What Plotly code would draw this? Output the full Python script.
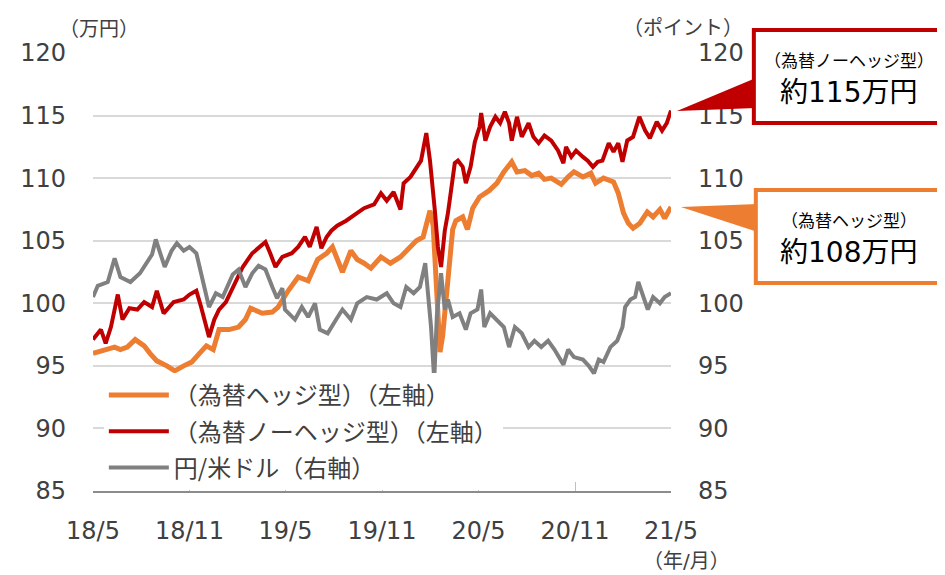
import plotly.graph_objects as go

# (為替ヘッジ型) 左軸
hedge_dates = ["2018-05-31", "2018-06-22", "2018-07-11", "2018-07-22", "2018-08-04", "2018-08-19",
               "2018-09-05", "2018-09-16", "2018-09-29", "2018-10-18", "2018-11-02", "2018-11-19",
               "2018-12-04", "2018-12-19", "2019-01-01", "2019-01-14", "2019-01-25", "2019-02-13",
               "2019-03-03", "2019-03-16", "2019-03-26", "2019-04-17", "2019-05-06", "2019-05-17",
               "2019-06-05", "2019-06-24", "2019-07-13", "2019-07-31", "2019-08-17", "2019-08-28",
               "2019-09-06", "2019-09-16", "2019-10-02", "2019-10-14", "2019-10-27", "2019-11-09",
               "2019-11-28", "2019-12-16", "2020-01-04", "2020-01-23", "2020-02-03", "2020-02-16",
               "2020-02-29", "2020-03-06", "2020-03-11", "2020-03-17", "2020-03-19", "2020-03-24",
               "2020-03-30", "2020-04-07", "2020-04-12", "2020-04-18", "2020-05-01", "2020-05-10",
               "2020-05-20", "2020-06-02", "2020-06-20", "2020-07-05", "2020-07-18", "2020-08-02",
               "2020-08-12", "2020-08-27", "2020-09-09", "2020-09-22", "2020-10-03", "2020-10-16",
               "2020-11-04", "2020-11-17", "2020-11-28", "2020-12-15", "2020-12-30", "2021-01-08",
               "2021-01-23", "2021-02-11", "2021-02-20", "2021-03-02", "2021-03-11", "2021-03-20",
               "2021-04-02", "2021-04-16", "2021-04-27", "2021-05-10", "2021-05-19", "2021-05-31"]
hedge = [96.0, 96.3, 96.5, 96.3, 96.5, 97.1,
         96.6, 96.0, 95.4, 95.0, 94.6, 95.0,
         95.3, 96.0, 96.6, 96.3, 97.9, 97.9,
         98.1, 98.7, 99.6, 99.2, 99.3, 99.7,
         101.0, 102.1, 101.8, 103.5, 104.0, 104.5,
         103.5, 102.5, 104.2, 103.5, 103.2, 102.8,
         103.7, 103.2, 103.7, 104.5, 105.0, 105.3,
         107.4, 106.2, 102.0, 97.2, 96.1, 97.4,
         100.0, 104.3, 105.9, 106.6, 106.9, 105.9,
         107.6, 108.5, 109.0, 109.6, 110.5, 111.3,
         110.5, 110.6, 110.2, 110.4, 109.9, 110.0,
         109.5, 110.1, 110.5, 110.1, 110.4, 109.6,
         110.0, 109.7, 108.8, 107.2, 106.4, 106.0,
         106.4, 107.3, 106.9, 107.5, 106.8, 107.7]

# (為替ノーヘッジ型) 左軸
nohedge_dates = ["2018-05-31", "2018-06-15", "2018-06-24", "2018-07-04", "2018-07-17", "2018-07-26",
                 "2018-08-08", "2018-08-23", "2018-09-05", "2018-09-20", "2018-09-29", "2018-10-12",
                 "2018-10-31", "2018-11-19", "2018-11-30", "2018-12-13", "2018-12-22", "2019-01-01",
                 "2019-01-06", "2019-01-16", "2019-01-25", "2019-02-07", "2019-02-20", "2019-03-11",
                 "2019-03-29", "2019-04-10", "2019-04-23", "2019-05-02", "2019-05-12", "2019-05-25",
                 "2019-06-12", "2019-06-24", "2019-07-07", "2019-07-16", "2019-07-29", "2019-08-07",
                 "2019-08-17", "2019-08-26", "2019-09-06", "2019-09-23", "2019-10-08", "2019-10-27",
                 "2019-11-15", "2019-11-28", "2019-12-09", "2019-12-22", "2020-01-04", "2020-01-10",
                 "2020-01-23", "2020-02-03", "2020-02-12", "2020-02-22", "2020-02-29", "2020-03-09",
                 "2020-03-15", "2020-03-21", "2020-03-28", "2020-04-03", "2020-04-09", "2020-04-16",
                 "2020-04-22", "2020-05-01", "2020-05-07", "2020-05-16", "2020-05-24", "2020-06-02",
                 "2020-06-05", "2020-06-13", "2020-06-22", "2020-07-02", "2020-07-11", "2020-07-20",
                 "2020-07-28", "2020-08-02", "2020-08-12", "2020-08-21", "2020-09-03", "2020-09-12",
                 "2020-09-22", "2020-10-03", "2020-10-16", "2020-10-29", "2020-11-08", "2020-11-13",
                 "2020-11-23", "2020-12-02", "2020-12-15", "2020-12-24", "2021-01-03", "2021-01-12",
                 "2021-01-21", "2021-02-02", "2021-02-11", "2021-02-20", "2021-02-28", "2021-03-09",
                 "2021-03-20", "2021-04-01", "2021-04-12", "2021-04-21", "2021-05-04", "2021-05-14",
                 "2021-05-23", "2021-05-31"]
nohedge = [97.1, 97.9, 96.8, 98.1, 100.7, 98.7,
           99.6, 99.5, 100.1, 99.7, 101.0, 99.2,
           100.1, 100.3, 100.7, 101.0, 99.7, 97.9,
           97.3, 98.7, 99.5, 100.1, 101.3, 102.9,
           104.0, 104.4, 104.9, 104.0, 102.9, 103.7,
           104.0, 104.5, 105.3, 104.5, 106.1, 104.4,
           105.3, 105.8, 106.2, 106.6, 107.0, 107.6,
           107.9, 108.8, 108.2, 108.9, 107.5, 109.6,
           110.1, 110.9, 111.4, 113.6, 111.4, 107.5,
           104.5, 102.9, 105.8, 107.2, 109.3, 111.2,
           111.4, 110.9, 109.6, 110.9, 112.9, 114.1,
           115.2, 113.0, 114.1, 114.9, 114.4, 115.3,
           114.4, 113.0, 114.9, 113.3, 114.4, 113.3,
           112.8, 113.4, 113.0, 112.2, 111.2, 112.5,
           111.7, 112.2, 111.7, 111.4, 110.9, 111.3,
           111.4, 112.8, 112.1, 112.8, 111.3, 113.0,
           113.3, 114.9, 113.8, 113.2, 114.5, 113.8,
           114.4, 115.4]

# 円/米ドル 右軸
usdjpy_dates = ["2018-05-31", "2018-06-09", "2018-06-28", "2018-07-11", "2018-07-22", "2018-08-10",
                "2018-08-28", "2018-09-10", "2018-09-20", "2018-09-27", "2018-10-09", "2018-10-14",
                "2018-10-27", "2018-11-06", "2018-11-19", "2018-11-30", "2018-12-13", "2018-12-22",
                "2018-12-28", "2019-01-06", "2019-01-19", "2019-02-01", "2019-02-20", "2019-03-03",
                "2019-03-16", "2019-03-29", "2019-04-10", "2019-04-23", "2019-05-06", "2019-05-15",
                "2019-05-25", "2019-05-30", "2019-06-18", "2019-07-01", "2019-07-13", "2019-07-26",
                "2019-08-04", "2019-08-19", "2019-09-04", "2019-09-16", "2019-10-02", "2019-10-14",
                "2019-11-01", "2019-11-20", "2019-12-09", "2019-12-22", "2020-01-04", "2020-01-15",
                "2020-01-29", "2020-02-10", "2020-02-20", "2020-02-25", "2020-03-02", "2020-03-08",
                "2020-03-13", "2020-03-21", "2020-03-28", "2020-04-03", "2020-04-12", "2020-04-25",
                "2020-05-07", "2020-05-16", "2020-05-29", "2020-06-05", "2020-06-11", "2020-06-22",
                "2020-07-05", "2020-07-18", "2020-07-28", "2020-08-08", "2020-08-21", "2020-09-03",
                "2020-09-14", "2020-09-27", "2020-10-10", "2020-10-22", "2020-11-08", "2020-11-17",
                "2020-11-28", "2020-12-15", "2020-12-26", "2021-01-05", "2021-01-14", "2021-01-23",
                "2021-02-05", "2021-02-18", "2021-02-28", "2021-03-05", "2021-03-15", "2021-03-24",
                "2021-03-30", "2021-04-08", "2021-04-17", "2021-04-27", "2021-05-10", "2021-05-19",
                "2021-05-31"]
usdjpy = [100.5, 101.4, 101.7, 103.6, 102.1, 101.7,
          102.4, 103.2, 103.9, 105.1, 103.7, 102.9,
          104.2, 104.8, 104.2, 104.5, 104.0, 102.4,
          101.0, 99.7, 100.8, 100.5, 102.3, 102.7,
          101.3, 102.4, 103.0, 102.7, 101.3, 100.4,
          101.2, 99.5, 98.7, 99.7, 98.9, 100.0,
          97.9, 97.6, 98.7, 99.5, 98.7, 100.0,
          100.5, 100.3, 100.8, 100.0, 99.7, 101.3,
          100.8, 101.3, 103.2, 100.8, 98.1, 93.9,
          99.0, 102.4, 99.5, 100.3, 98.9, 99.2,
          97.9, 99.2, 99.5, 101.1, 98.1, 99.2,
          98.7, 98.1, 96.5, 98.1, 97.6, 96.5,
          97.0, 96.5, 97.0, 96.3, 95.1, 96.3,
          95.7, 95.5, 95.0, 94.4, 95.5, 95.3,
          96.5, 97.0, 98.1, 99.7, 100.3, 100.5,
          101.7, 100.5, 99.5, 100.5, 100.0, 100.5,
          100.8]

tick_dates = ["2018-05-31", "2018-11-30", "2019-05-31", "2019-11-30",
              "2020-05-31", "2020-11-30", "2021-05-31"]
tick_labels = ["18/5", "18/11", "19/5", "19/11", "20/5", "20/11", "21/5"]

ORANGE = "#ED7D31"
RED = "#C00000"
GRAY = "#808080"
TXT = "#404040"

# the page puts the figure 8px in from the top-left corner,
# so the figure is made 8px smaller to end exactly at the window edge
OFF = 8
FIG_W, FIG_H = 945 - OFF, 575 - OFF
# plot area, in screen pixels: left 85, right 671, top 53, bottom 491
L, R, T, B = 85 - OFF, 671 - OFF, 53 - OFF, 491 - OFF
W, H = R - L, B - T


def px(x):
    return (x - OFF - L) / W


def py(y):
    return (B - (y - OFF)) / H


def callout(color, tip, base_top, base_bot, box_left, box_top, box_bot):
    # wedge pointing at the line end, plus a box open on its right side
    wedge = dict(type="path", xref="paper", yref="paper",
                 path="M%f,%f L%f,%f L%f,%f Z" % (px(tip[0]), py(tip[1]), px(box_left + 2), py(base_top),
                                                  px(box_left + 2), py(base_bot)),
                 fillcolor=color, line=dict(width=0))
    box = dict(type="path", xref="paper", yref="paper",
               path="M%f,%f L%f,%f L%f,%f L%f,%f" % (px(1000), py(box_top), px(box_left), py(box_top),
                                                     px(box_left), py(box_bot), px(1000), py(box_bot)),
               fillcolor="white", line=dict(color=color, width=4))
    return [wedge, box]


fig = go.Figure()
fig.add_trace(go.Scatter(x=hedge_dates, y=hedge, mode="lines", name="（為替ヘッジ型）（左軸）",
                         legendgroup="a", line=dict(color=ORANGE, width=5)))
fig.add_trace(go.Scatter(x=nohedge_dates, y=nohedge, mode="lines", name="（為替ノーヘッジ型）（左軸）",
                         legendgroup="b", line=dict(color=RED, width=4)))
fig.add_trace(go.Scatter(x=usdjpy_dates, y=usdjpy, mode="lines", name="円/米ドル（右軸）",
                         legendgroup="c", line=dict(color=GRAY, width=4), yaxis="y2"))

shapes = (callout(RED, (677, 111), 78, 108, 755, 30, 123)
          + callout(ORANGE, (681, 207), 204, 232, 757, 190, 283))


def note(text, x, y, size, color="#000000"):
    return dict(text=text, xref="paper", yref="paper", x=px(x), y=py(y), xanchor="center",
                yanchor="middle", showarrow=False, font=dict(size=size, color=color))


annotations = [
    note("（為替ノーヘッジ型）", 851, 61, 17),
    note("約115万円", 851, 92, 28),
    note("（為替ヘッジ型）", 851, 221, 17),
    note("約108万円", 851, 252, 28),
    note("（万円）", 91, 29, 20, TXT),
    note("（ポイント）", 683, 28, 20, TXT),
    note("（年/月）", 687, 561, 20, TXT),
]

fig.update_layout(
    width=FIG_W, height=FIG_H,
    margin=dict(l=L, r=FIG_W - R, t=T, b=FIG_H - B, pad=0),
    paper_bgcolor="white", plot_bgcolor="white",
    font=dict(family="DejaVu Sans, Noto Sans CJK JP", color=TXT),
    showlegend=True,
    legend=dict(x=px(96), y=py(490), xanchor="left", yanchor="bottom",
                bgcolor="white", font=dict(size=24, color=TXT,
                                           family="Noto Sans CJK JP, DejaVu Sans"),
                traceorder="grouped", tracegroupgap=2, itemwidth=60),
    xaxis=dict(type="date", range=["2018-05-31", "2021-05-31"], tickvals=tick_dates,
               ticktext=tick_labels, ticks="inside", ticklen=9, tickcolor="#BFBFBF",
               showline=True, linecolor="#8C8C8C", linewidth=1.5, showgrid=False,
               zeroline=False, tickfont=dict(size=24, color=TXT), ticklabelstandoff=17),
    yaxis=dict(range=[85, 120], dtick=5, showgrid=True, gridcolor="#D9D9D9", gridwidth=1.5,
               zeroline=False, showline=False, tickfont=dict(size=24, color=TXT),
               ticklabelstandoff=26),
    yaxis2=dict(range=[85, 120], dtick=5, overlaying="y", side="right", showgrid=False,
                zeroline=False, showline=False, tickfont=dict(size=24, color=TXT),
                ticklabelstandoff=26),
    shapes=shapes,
    annotations=annotations,
)

fig.write_html("out.html")
